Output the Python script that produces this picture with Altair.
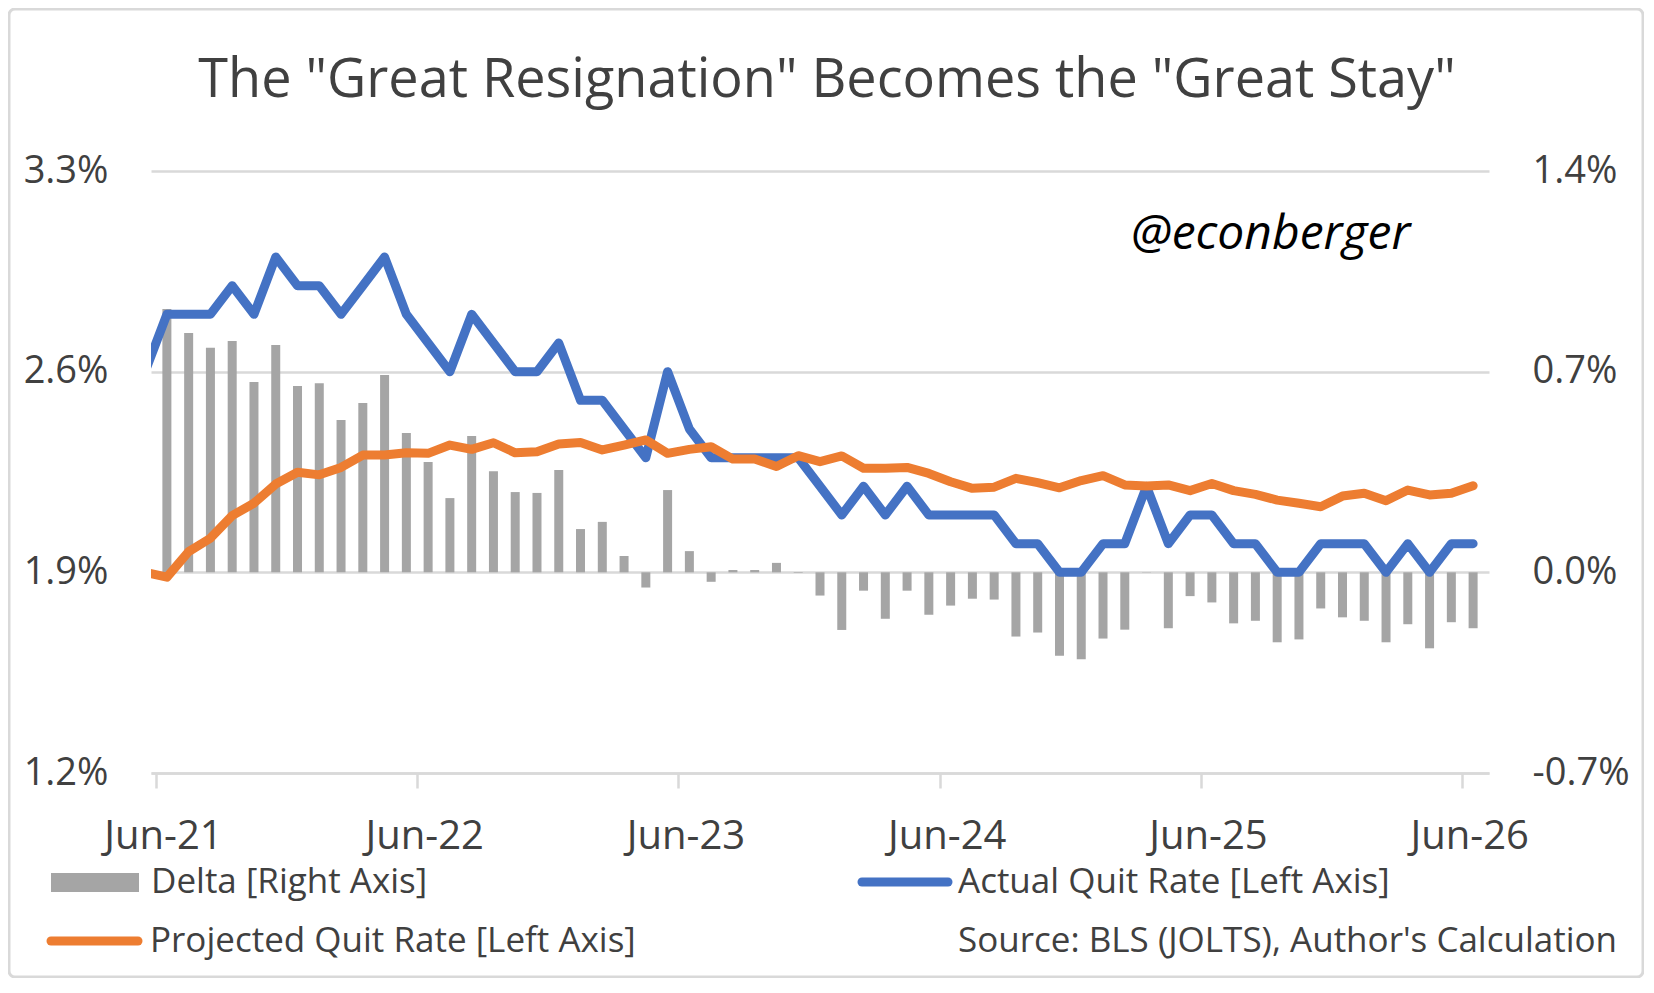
import pandas as pd
import altair as alt

# x-axis tick labels, one every 12 monthly slots
tick_labels = ['Jun-21', 'Jun-22', 'Jun-23', 'Jun-24', 'Jun-25', 'Jun-26']

# quit rates in %; the first value is the month before Jun-21 (clipped at the axis edge)
actual = [2.6,
          2.8, 2.8, 2.8, 2.9, 2.8, 3.0, 2.9, 2.9, 2.8, 2.9, 3.0, 2.8,
          2.7, 2.6, 2.8, 2.7, 2.6, 2.6, 2.7, 2.5, 2.5, 2.4, 2.3, 2.6,
          2.4, 2.3, 2.3, 2.3, 2.3, 2.3, 2.2, 2.1, 2.2, 2.1, 2.2, 2.1,
          2.1, 2.1, 2.1, 2.0, 2.0, 1.9, 1.9, 2.0, 2.0, 2.2, 2.0, 2.1,
          2.1, 2.0, 2.0, 1.9, 1.9, 2.0, 2.0, 2.0, 1.9, 2.0, 1.9, 2.0,
          2.0]
projected = [1.90,
             1.883, 1.972, 2.019, 2.098, 2.141, 2.208, 2.249, 2.240, 2.266, 2.309, 2.309, 2.317,
             2.315, 2.344, 2.329, 2.352, 2.317, 2.321, 2.348, 2.353, 2.327, 2.344, 2.362, 2.315,
             2.329, 2.338, 2.295, 2.295, 2.269, 2.307, 2.286, 2.306, 2.263, 2.263, 2.266, 2.245,
             2.216, 2.193, 2.197, 2.228, 2.213, 2.195, 2.220, 2.237, 2.205, 2.201, 2.205, 2.185,
             2.210, 2.185, 2.172, 2.152, 2.141, 2.129, 2.166, 2.176, 2.150, 2.187, 2.170, 2.176,
             2.202]
# delta in percentage points (right axis), Jun-21 onwards
delta = [0.919, 0.835, 0.783, 0.807, 0.664, 0.793, 0.650, 0.660, 0.531, 0.591, 0.688, 0.486,
         0.385, 0.259, 0.476, 0.353, 0.280, 0.277, 0.357, 0.151, 0.176, 0.057, -0.053, 0.287,
         0.074, -0.033, 0.008, 0.008, 0.033, -0.002, -0.081, -0.201, -0.064, -0.162, -0.064, -0.148,
         -0.116, -0.092, -0.095, -0.224, -0.210, -0.291, -0.303, -0.231, -0.200, -0.001, -0.195, -0.083,
         -0.105, -0.178, -0.169, -0.244, -0.234, -0.126, -0.157, -0.169, -0.244, -0.181, -0.265, -0.174,
         -0.195]

title_text = 'The "Great Resignation" Becomes the "Great Stay"'

FONT = 'Open Sans'
TEXT = '#404040'
GRID = '#d9d9d9'
BLUE = '#4472c4'
ORANGE = '#ed7d31'
GRAY = '#a5a5a5'

# slot centres: month i sits at i + 0.5 on a 0..61 axis
lines_df = pd.DataFrame({'x': [i - 0.5 for i in range(len(actual))],
                         'actual': actual, 'projected': projected})
bars_df = pd.DataFrame({'x': [i + 0.5 for i in range(len(delta))], 'delta': delta})

label_list = '[' + ','.join("'%s'" % s for s in tick_labels) + ']'

x_enc = alt.X('x:Q', scale=alt.Scale(domain=[0, 61], nice=False, zero=False),
              axis=alt.Axis(values=[0, 12, 24, 36, 48, 60],
                            labelExpr=label_list + '[round(datum.value / 12)]',
                            title=None, grid=False, domain=True, domainColor=GRID, domainWidth=2.5,
                            tickColor=GRID, tickWidth=2.5, tickSize=15,
                            labelFont=FONT, labelFontSize=40, labelColor=TEXT, labelOffset=7,
                            labelPadding=28, labelFlush=False, labelOverlap=False))

bars = alt.Chart(bars_df).mark_bar(size=9, color=GRAY).encode(
    x=x_enc,
    y=alt.Y('delta:Q', scale=alt.Scale(domain=[-0.7, 1.4], nice=False),
            axis=alt.Axis(orient='right', values=[-0.7, 0, 0.7, 1.4], title=None,
                          labelExpr="(datum.value < 0 ? '-' : '') + format(abs(datum.value), '.1f') + '%'",
                          grid=False, domain=False, ticks=False, tickSize=0,
                          labelPadding=43, labelAlign='left',
                          labelFont=FONT, labelFontSize=38, labelColor=TEXT))
)

left_scale = alt.Scale(domain=[1.2, 3.3], nice=False, zero=False)

blue = alt.Chart(lines_df).mark_line(color=BLUE, strokeWidth=9, strokeJoin='round',
                                     strokeCap='round', clip=True).encode(
    x=x_enc,
    y=alt.Y('actual:Q', scale=left_scale,
            axis=alt.Axis(orient='left', values=[1.2, 1.9, 2.6, 3.3], title=None,
                          labelExpr="format(datum.value, '.1f') + '%'",
                          grid=True, gridColor=GRID, gridWidth=2.5,
                          domain=False, ticks=False, tickSize=0, labelPadding=43,
                          labelFont=FONT, labelFontSize=38, labelColor=TEXT))
)

orange = alt.Chart(lines_df).mark_line(color=ORANGE, strokeWidth=9, strokeJoin='round',
                                       strokeCap='round', clip=True).encode(
    x=x_enc,
    y=alt.Y('projected:Q', scale=left_scale, axis=None)
)


def note(text, x, y, size=35, color=TEXT, baseline='middle', align='left', **kw):
    return alt.Chart(pd.DataFrame({'t': [text]})).mark_text(
        align=align, baseline=baseline, font=FONT, fontSize=size, color=color, **kw
    ).encode(x=alt.value(x), y=alt.value(y), text='t:N')


one = pd.DataFrame({'k': [0]})

# legend, drawn by hand to match the Excel layout
delta_key = alt.Chart(one).mark_rect(color=GRAY).encode(
    x=alt.value(-100), x2=alt.value(-12), y=alt.value(702), y2=alt.value(721))
blue_key = alt.Chart(one).mark_rule(color=BLUE, strokeWidth=9, strokeCap='round').encode(
    x=alt.value(711), x2=alt.value(797), y=alt.value(711))
orange_key = alt.Chart(one).mark_rule(color=ORANGE, strokeWidth=9, strokeCap='round').encode(
    x=alt.value(-100), x2=alt.value(-13), y=alt.value(770))

frame = alt.Chart(one).mark_rect(fillOpacity=0, stroke=GRID, strokeWidth=3, cornerRadius=6).encode(
    x=alt.value(-142), x2=alt.value(1492), y=alt.value(-162), y2=alt.value(806))

chart = alt.layer(
    frame, bars, blue, orange,
    delta_key, blue_key, orange_key,
    note(title_text, 676, -74, size=54, align='center', baseline='alphabetic'),
    note('Delta [Right Axis]', 0, 711),
    note('Actual Quit Rate [Left Axis]', 807, 711),
    note('Projected Quit Rate [Left Axis]', -1, 770),
    note("Source: BLS (JOLTS), Author's Calculation", 807, 770),
    note('@econberger', 980, 78, size=48, color='#000000', fontStyle='italic', baseline='alphabetic'),
).resolve_scale(
    y='independent'
).properties(
    width=1338, height=602,
    autosize=alt.AutoSizeParams(type='none'),
    padding={'left': 143, 'top': 163, 'right': 155, 'bottom': 205},
    view=alt.ViewBackground(strokeWidth=0, stroke='transparent'),
).configure_view(
    strokeWidth=0, stroke='transparent'
).configure_axisY(
    domain=False
).configure(
    background='white'
)

chart.save('out.html', embed_options={'renderer': 'svg', 'actions': False})
